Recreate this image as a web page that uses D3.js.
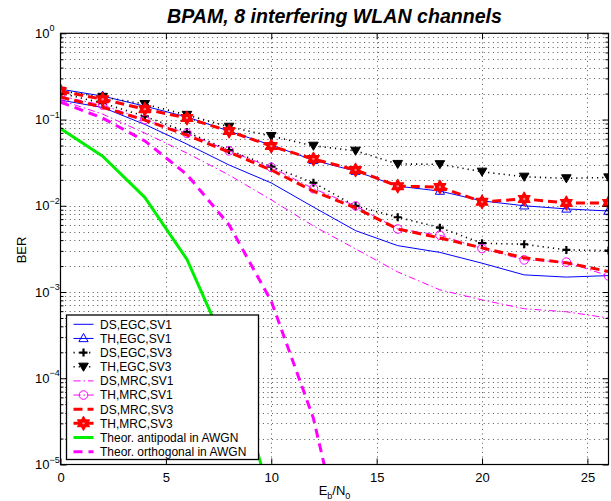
<!DOCTYPE html>
<html>
<head>
<meta charset="utf-8">
<script src="https://cdn.jsdelivr.net/npm/d3@7"></script>
<style>
  html, body { margin: 0; padding: 0; background: #fff; }
  svg { display: block; font-family: "Liberation Sans", Arial, Helvetica, sans-serif; }
</style>
</head>
<body>
<svg id="chart" width="611" height="501"></svg>
<script>
// Eb/N0 grid (dB) for the simulated curves
const ebno = [0, 2, 4, 6, 8, 10, 12, 14, 16, 18, 20, 22, 24, 26];

// Simulated BER, 8 interfering WLAN channels
const dsEgcSv1 = [0.168, 0.138, 0.0878, 0.0519, 0.0297, 0.0184, 0.00966, 0.00515, 0.00345, 0.00288, 0.00216, 0.00158, 0.00149, 0.00155];
const thEgcSv1 = [0.225, 0.187, 0.143, 0.107, 0.0734, 0.0505, 0.0338, 0.0252, 0.0169, 0.0148, 0.0114, 0.0100, 0.0092, 0.0087];
const dsEgcSv3 = [0.202, 0.155, 0.109, 0.0715, 0.0442, 0.0284, 0.0185, 0.00995, 0.00736, 0.00558, 0.00368, 0.00358, 0.00308, 0.00302];
const thEgcSv3 = [0.215, 0.183, 0.151, 0.113, 0.0823, 0.0643, 0.0496, 0.0434, 0.0305, 0.0303, 0.0248, 0.0217, 0.0208, 0.0213];
const dsMrcSv1 = [0.168, 0.1155, 0.0696, 0.0408, 0.0227, 0.0117, 0.00583, 0.00316, 0.00171, 0.00106, 0.00081, 0.00064, 0.00059, 0.00050];
const thMrcSv1 = [0.187, 0.147, 0.100, 0.0691, 0.0434, 0.0279, 0.0158, 0.00995, 0.00538, 0.00456, 0.00319, 0.00236, 0.00222, 0.00154];
const dsMrcSv3 = [0.182, 0.139, 0.0984, 0.0660, 0.0419, 0.0260, 0.0148, 0.00944, 0.00538, 0.00424, 0.00325, 0.00249, 0.00218, 0.00173];
const thMrcSv3 = [0.213, 0.172, 0.132, 0.104, 0.0734, 0.0492, 0.0348, 0.0260, 0.0169, 0.0165, 0.0111, 0.0120, 0.0108, 0.0108];

// Theoretical AWGN references
const ebnoAntipodal = [0, 2, 4, 6, 8, 10];
const berAntipodal  = [0.0786, 0.0375, 0.0125, 0.00239, 0.000191, 0.0000039];
const ebnoOrthogonal = [0, 2, 4, 6, 8, 10, 12, 14];
const berOrthogonal  = [0.159, 0.104, 0.0565, 0.0230, 0.0060, 0.000783, 0.0000343, 0.00000027];

// Axis ticks
const xTicks = [0, 5, 10, 15, 20, 25];
const yDecades = [0, -1, -2, -3, -4, -5];

// Series definitions (legend order = drawing order)
const series = [
  { name: "DS,EGC,SV1", x: ebno, y: dsEgcSv1, color: "#0000ff", width: 1, dash: null, marker: null },
  { name: "TH,EGC,SV1", x: ebno, y: thEgcSv1, color: "#0000ff", width: 1, dash: null, marker: "triUp" },
  { name: "DS,EGC,SV3", x: ebno, y: dsEgcSv3, color: "#000000", width: 1.6, dash: "1.2,4", marker: "plus" },
  { name: "TH,EGC,SV3", x: ebno, y: thEgcSv3, color: "#000000", width: 1.6, dash: "1.2,4", marker: "triDown" },
  { name: "DS,MRC,SV1", x: ebno, y: dsMrcSv1, color: "#ff00ff", width: 1, dash: "7,3,1.5,3", marker: null },
  { name: "TH,MRC,SV1", x: ebno, y: thMrcSv1, color: "#ff00ff", width: 1, dash: "7,3,1.5,3", marker: "circle" },
  { name: "DS,MRC,SV3", x: ebno, y: dsMrcSv3, color: "#ff0000", width: 3, dash: "9,5", marker: null },
  { name: "TH,MRC,SV3", x: ebno, y: thMrcSv3, color: "#ff0000", width: 3, dash: "9,5", marker: "hexagram" },
  { name: "Theor. antipodal in AWGN", x: ebnoAntipodal, y: berAntipodal, color: "#00ee00", width: 3, dash: null, marker: null },
  { name: "Theor. orthogonal in AWGN", x: ebnoOrthogonal, y: berOrthogonal, color: "#ff00ff", width: 3, dash: "9,6", marker: null }
];

const svg = d3.select("#chart");
const plot = { left: 60.5, right: 608.5, top: 33.3, bottom: 464.5 };

const x = d3.scaleLinear().domain([0, 26]).range([plot.left, plot.right]);
const y = d3.scaleLog().domain([1e-5, 1]).range([plot.bottom, plot.top]);

// Minor log ticks 2..9 in each decade
const yMinor = [];
for (let k = -5; k < 0; k++) for (let m = 2; m <= 9; m++) yMinor.push(m * Math.pow(10, k));
const yMajor = yDecades.map(d => Math.pow(10, d));

// Background of axes
svg.append("rect").attr("x", plot.left).attr("y", plot.top)
  .attr("width", plot.right - plot.left).attr("height", plot.bottom - plot.top).attr("fill", "#fff");

// Dotted grid
const grid = svg.append("g").attr("stroke", "#555").attr("stroke-width", 1).attr("stroke-dasharray", "1,3.6");
grid.selectAll("line.v").data(xTicks.filter(d => d > 0)).join("line")
  .attr("x1", d => Math.round(x(d)) + 0.5).attr("x2", d => Math.round(x(d)) + 0.5)
  .attr("y1", plot.top).attr("y2", plot.bottom);
grid.selectAll("line.h").data(yMinor.concat(yMajor.filter(d => d < 1 && d > 1e-5))).join("line")
  .attr("x1", plot.left).attr("x2", plot.right)
  .attr("y1", d => Math.round(y(d)) + 0.5).attr("y2", d => Math.round(y(d)) + 0.5);

// Data lines, clipped to the axes box
svg.append("clipPath").attr("id", "clip").append("rect")
  .attr("x", plot.left).attr("y", plot.top)
  .attr("width", plot.right - plot.left).attr("height", plot.bottom - plot.top);

const lineGen = d3.line().x(d => x(d[0])).y(d => y(d[1]));
const data = svg.append("g").attr("clip-path", "url(#clip)");

function hexagramPath(R) {
  const r = R / Math.sqrt(3);
  const pts = [];
  for (let i = 0; i < 12; i++) {
    const a = -Math.PI / 2 + i * Math.PI / 6;
    const rr = i % 2 === 0 ? R : r;
    pts.push([rr * Math.cos(a), rr * Math.sin(a)]);
  }
  return "M" + pts.map(p => p[0].toFixed(2) + "," + p[1].toFixed(2)).join("L") + "Z";
}

function drawMarker(g, type, color) {
  if (type === "triUp") {
    g.append("path").attr("d", "M0,-5L4.6,3.2L-4.6,3.2Z")
      .attr("fill", "none").attr("stroke", color).attr("stroke-width", 1);
  } else if (type === "triDown") {
    g.append("path").attr("d", "M0,4.5L-4.8,-3.6L4.8,-3.6Z")
      .attr("fill", color).attr("stroke", color).attr("stroke-width", 1);
  } else if (type === "plus") {
    g.append("path").attr("d", "M-4,0H4M0,-4V4")
      .attr("fill", "none").attr("stroke", color).attr("stroke-width", 2.2);
  } else if (type === "circle") {
    g.append("circle").attr("r", 4.3)
      .attr("fill", "none").attr("stroke", color).attr("stroke-width", 1);
  } else if (type === "hexagram") {
    g.append("path").attr("d", hexagramPath(6.8))
      .attr("fill", color).attr("stroke", color).attr("stroke-width", 1.2)
      .attr("stroke-linejoin", "round");
    g.append("circle").attr("r", 1.2).attr("fill", "#ff8080");
  }
}

series.forEach(s => {
  const pts = s.x.map((v, i) => [v, s.y[i]]);
  data.append("path").datum(pts)
    .attr("d", lineGen)
    .attr("fill", "none")
    .attr("stroke", s.color)
    .attr("stroke-width", s.width)
    .attr("stroke-dasharray", s.dash)
    .attr("stroke-linejoin", "round");
  if (s.marker) {
    data.append("g").selectAll("g").data(pts).join("g")
      .attr("transform", d => `translate(${x(d[0])},${y(d[1])})`)
      .each(function () { drawMarker(d3.select(this), s.marker, s.color); });
  }
});

// Axes box and ticks
const axisColor = "#000";
const xAxisB = d3.axisBottom(x).tickValues(xTicks).tickSize(-6).tickPadding(8).tickFormat(d3.format("d"));
const xAxisT = d3.axisTop(x).tickValues(xTicks).tickSize(-6).tickFormat("");
const yAxisL = d3.axisLeft(y).tickValues(yMajor).tickSize(-6).tickFormat("");
const yAxisLm = d3.axisLeft(y).tickValues(yMinor).tickSize(-3).tickFormat("");
const yAxisR = d3.axisRight(y).tickValues(yMajor).tickSize(-6).tickFormat("");
const yAxisRm = d3.axisRight(y).tickValues(yMinor).tickSize(-3).tickFormat("");

function styleAxis(g) {
  g.select(".domain").remove();
  g.selectAll("line").attr("stroke", axisColor);
  g.selectAll("text").attr("fill", "#000").attr("font-size", 13)
    .attr("font-family", '"Liberation Sans", Arial, sans-serif');
}
svg.append("g").attr("transform", `translate(0,${plot.bottom})`).call(xAxisB).call(styleAxis);
svg.append("g").attr("transform", `translate(0,${plot.top})`).call(xAxisT).call(styleAxis);
svg.append("g").attr("transform", `translate(${plot.left},0)`).call(yAxisL).call(styleAxis);
svg.append("g").attr("transform", `translate(${plot.left},0)`).call(yAxisLm).call(styleAxis);
svg.append("g").attr("transform", `translate(${plot.right},0)`).call(yAxisR).call(styleAxis);
svg.append("g").attr("transform", `translate(${plot.right},0)`).call(yAxisRm).call(styleAxis);

svg.append("rect").attr("x", plot.left).attr("y", plot.top)
  .attr("width", plot.right - plot.left).attr("height", plot.bottom - plot.top)
  .attr("fill", "none").attr("stroke", "#000").attr("stroke-width", 1.2);

// Y tick labels as powers of ten
const yLab = svg.append("g").attr("font-size", 13).attr("fill", "#000");
yDecades.forEach(k => {
  const t = yLab.append("text").attr("x", 35).attr("y", y(Math.pow(10, k)) + 4.5);
  t.append("tspan").text("10");
  t.append("tspan").attr("dy", -6.5).attr("font-size", 9).text(k === 0 ? "0" : "\u2212" + Math.abs(k));
});

// Title and axis labels
svg.append("text").attr("x", (plot.left + plot.right) / 2).attr("y", 22.5)
  .attr("text-anchor", "middle").attr("font-size", 19.6).attr("font-weight", "bold")
  .attr("font-style", "italic").text("BPAM, 8 interfering WLAN channels");

const xl = svg.append("text").attr("x", (plot.left + plot.right) / 2).attr("y", 495)
  .attr("text-anchor", "middle").attr("font-size", 13);
xl.append("tspan").text("E");
xl.append("tspan").attr("dy", 3.5).attr("font-size", 9).text("b");
xl.append("tspan").attr("dy", -3.5).text("/N");
xl.append("tspan").attr("dy", 3.5).attr("font-size", 9).text("0");

svg.append("text").attr("transform", "translate(25.5,250) rotate(-90)")
  .attr("text-anchor", "middle").attr("font-size", 13).text("BER");

// Legend
const leg = { x: 66.5, y: 315, w: 192, h: 144.5, row0: 324.3, step: 14.15 };
const lg = svg.append("g");
lg.append("rect").attr("x", leg.x).attr("y", leg.y).attr("width", leg.w).attr("height", leg.h)
  .attr("fill", "#fff").attr("stroke", "#000").attr("stroke-width", 1.3);
series.forEach((s, i) => {
  const cy = leg.row0 + i * leg.step;
  lg.append("line").attr("x1", 73.5).attr("x2", 93.5).attr("y1", cy).attr("y2", cy)
    .attr("stroke", s.color).attr("stroke-width", s.width).attr("stroke-dasharray", s.dash);
  if (s.marker) {
    const g = lg.append("g").attr("transform", `translate(83.5,${cy})`);
    drawMarker(g, s.marker, s.color);
  }
  lg.append("text").attr("x", 100).attr("y", cy + 4.3).attr("font-size", 12).text(s.name);
});
</script>
</body>
</html>
